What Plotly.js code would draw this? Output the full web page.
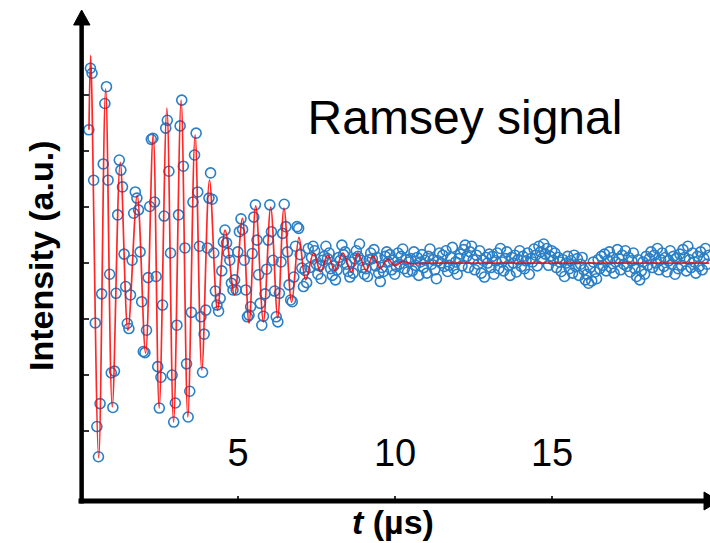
<!DOCTYPE html>
<html><head><meta charset="utf-8">
<script src="https://cdn.plot.ly/plotly-3.0.1.min.js"></script>
<style>html,body{margin:0;padding:0;background:#fff}#chart{width:710px;height:543px}</style>
</head><body><div id="chart"></div>
<script>
// sampling grid of the measurement (µs)
const T0 = 0.25;
const DT = 0.051;

// measured Ramsey signal (a.u.), one value per sample
const intensity = [
 2.38, 3.48, 3.39, 1.48, -1.07, -2.92, -3.46, -2.51, -0.55, 1.77,
 2.85, 3.15, 1.48, -0.20, -1.96, -2.58, -1.93, -0.54, 0.86, 1.84,
 1.66, 1.36, 0.16, -0.42, -1.08, -1.17, -0.57, 0.05, 0.89, 1.27,
 1.16, 0.95, 0.20, -0.69, -1.58, -1.60, -1.20, -0.26, 1.01, 2.21,
 2.23, 1.09, -0.24, -1.85, -2.59, -2.04, -0.75, 0.84, 2.41, 2.55,
 1.64, 0.18, -2.00, -2.84, -2.50, -1.11, 0.86, 2.45, 2.91, 1.73,
 0.27, -1.80, -2.75, -2.29, -0.88, 1.09, 1.93, 2.32, 1.27, 0.30,
 -0.96, -1.95, -1.27, -0.84, 0.27, 1.16, 1.61, 1.14, 0.18, -0.50,
 -0.75, -0.86, -0.63, -0.14, 0.38, 0.59, 0.36, 0.18, 0.05, -0.36,
 -0.48, -0.30, -0.48, 0.20, 0.56, 0.79, 0.60, 0.05, -0.48, -0.96,
 -0.93, -0.78, 0.17, 0.82, 1.04, 0.41, -0.21, -0.72, -1.11, -0.95,
 -0.55, -0.11, 0.41, 1.04, 0.56, 0.05, -0.50, -0.96, -1.05, -0.54,
 0.02, 0.53, 1.05, 0.65, 0.20, -0.39, -0.66, -0.69, -0.25, 0.30,
 0.65, 0.62, 0.15, -0.09, -0.42, -0.13, -0.35, 0.26, -0.08, 0.10,
 0.30, 0.22, -0.02, -0.20, -0.05, -0.28, 0.05, 0.12, 0.30, 0.08,
 0.18, -0.10, -0.22, -0.05, -0.30, -0.12, 0.10, 0.05, 0.32, 0.15,
 0.20, -0.02, -0.15, -0.25, 0.02, -0.18, 0.08, 0.22, 0.12, 0.34,
 0.05, -0.08, -0.20, -0.10, -0.24, 0.06, 0.18, 0.08, 0.24, -0.05,
 0.10, -0.18, -0.33, -0.08, -0.15, 0.12, 0.20, 0.02, 0.15, -0.12,
 0.05, -0.20, -0.06, 0.18, -0.02, 0.12, 0.25, -0.10, 0.06, -0.16,
 0.02, 0.08, -0.14, 0.20, -0.04, 0.10, -0.22, 0.02, 0.15, -0.08,
 0.05, -0.18, 0.12, 0.25, -0.02, 0.06, -0.12, -0.28, 0.04, 0.18,
 0.00, 0.14, -0.06, 0.22, -0.15, -0.04, 0.10, 0.28, -0.10, 0.02,
 -0.20, 0.08, 0.16, -0.05, 0.24, 0.32, 0.12, -0.08, 0.20, 0.30,
 0.06, -0.12, 0.14, -0.02, 0.22, -0.18, 0.05, -0.25, 0.10, 0.00,
 0.16, -0.08, 0.12, -0.20, 0.04, 0.18, -0.10, 0.26, 0.02, -0.14,
 0.08, 0.20, -0.04, -0.22, 0.10, 0.00, 0.14, -0.16, 0.06, 0.22,
 -0.06, 0.12, -0.10, 0.04, 0.18, -0.20, 0.08, 0.02, 0.25, 0.14,
 -0.05, 0.30, 0.20, 0.08, 0.34, 0.16, 0.26, -0.04, 0.12, 0.22,
 0.05, 0.18, -0.08, 0.10, 0.02, -0.15, 0.06, -0.24, 0.00, 0.12,
 -0.10, 0.04, -0.18, 0.14, -0.06, 0.08, -0.22, -0.02, 0.10, -0.12,
 -0.30, -0.20, -0.36, -0.08, -0.32, 0.02, -0.16, -0.28, 0.06, -0.10,
 0.12, -0.04, 0.16, -0.14, 0.05, 0.20, -0.08, 0.10, -0.18, 0.02,
 0.24, 0.08, -0.12, 0.14, -0.02, 0.22, -0.06, 0.10, -0.16, 0.04,
 0.18, -0.10, -0.24, 0.06, -0.30, -0.14, 0.02, -0.20, 0.12, -0.04,
 0.08, 0.20, -0.08, 0.14, 0.00, 0.26, -0.12, 0.06, 0.18, -0.06,
 0.10, -0.16, 0.04, 0.22, -0.02, 0.12, -0.20, 0.08, -0.10, 0.16,
 -0.04, 0.24, 0.10, -0.14, 0.30, 0.06, -0.08, 0.18, 0.02, -0.18,
 0.12, -0.06, 0.20, -0.12, 0.08, 0.26, -0.02, 0.14
];
const time = intensity.map((_, k) => +(T0 + DT * k).toFixed(3));

// fitted curve, read at its turning points (µs, a.u.)
const fitTime = [0.254, 0.308, 0.563, 0.785, 0.995, 1.250, 1.494, 1.790, 2.057, 2.299,
 2.490, 2.734, 2.948, 3.189, 3.402, 3.634, 3.847, 4.092, 4.347, 4.588,
 4.887, 5.141, 5.351, 5.564, 5.809, 6.041, 6.264, 6.464, 6.709, 6.941,
 7.154, 7.409, 7.631, 7.854, 8.092, 8.340, 8.607, 8.817, 9.084, 9.294,
 9.533, 9.762, 10.0, 10.24, 10.48, 11.0, 20.0];
const fitIntensity = [2.38, 3.71, -3.48, 3.11, -2.57, 1.80, -1.20, 1.21, -1.61, 2.30,
 -2.59, 2.77, -2.84, 2.91, -2.75, 2.29, -1.91, 1.48, -0.84, 0.59,
 -0.57, 0.80, -1.07, 1.02, -1.05, 1.00, -0.98, 0.98, -0.70, 0.46,
 -0.30, 0.18, -0.16, 0.14, -0.13, 0.18, -0.16, 0.18, -0.13, 0.13,
 -0.09, 0.07, -0.045, 0.03, -0.01, 0, 0];

const xTickValues = [5, 10, 15];
const xTickLabels = ['5', '10', '15'];
const yTickValues = [-3, -2, -1, 0, 1, 2, 3];

const FONT = 'Liberation Sans, Arial, sans-serif';

const traces = [
  {x: time, y: intensity, type: 'scatter', mode: 'markers', name: 'data',
   marker: {symbol: 'circle-open', size: 10, color: '#2a7fc6', line: {width: 1.6, color: '#2a7fc6'}},
   showlegend: false, hoverinfo: 'skip'},
  {x: fitTime, y: fitIntensity, type: 'scatter', mode: 'lines', name: 'fit',
   line: {color: 'rgba(255,0,0,0.85)', width: 1.7, shape: 'spline', smoothing: 1},
   showlegend: false, hoverinfo: 'skip'}
];

const layout = {
  width: 710, height: 543,
  margin: {l: 81, r: 0, t: 10, b: 42, pad: 0},
  paper_bgcolor: '#fff', plot_bgcolor: '#fff',
  font: {family: FONT, color: '#000'},
  title: {text: 'Ramsey signal', font: {family: FONT, size: 48, color: '#000'},
          x: 465 / 710, xanchor: 'center', xref: 'container',
          y: 1 - 117 / 543, yanchor: 'middle', yref: 'container'},
  xaxis: {range: [0, 20.03], showgrid: false, zeroline: false, showline: false,
          tickvals: xTickValues, ticktext: xTickLabels,
          ticks: 'inside', ticklen: 5, tickwidth: 1.5, tickcolor: '#333',
          ticklabelposition: 'inside', ticklabelstandoff: 27,
          tickfont: {family: FONT, size: 38, color: '#000'}},
  yaxis: {range: [-4.25, 4.52], showgrid: false, zeroline: false, showline: false,
          tickvals: yTickValues, showticklabels: false,
          ticks: 'inside', ticklen: 8, tickwidth: 1.5, tickcolor: '#333'},
  annotations: [
    {text: '<b>Intensity (a.u.)</b>', textangle: -90, showarrow: false,
     xref: 'paper', yref: 'paper', x: (41 - 81) / 629, y: (501 - 256) / 491,
     xanchor: 'center', yanchor: 'middle', font: {family: FONT, size: 34, color: '#000'}},
    {text: '<b><i>t</i> (µs)</b>', showarrow: false,
     xref: 'paper', yref: 'paper', x: (393 - 81) / 629, y: (501 - 522) / 491,
     xanchor: 'center', yanchor: 'middle', font: {family: FONT, size: 34, color: '#000'}}
  ],
  shapes: [
    {type: 'line', xref: 'paper', yref: 'paper', x0: 0.001, x1: 0.001, y0: -0.005, y1: 0.975,
     line: {color: '#000', width: 4.5}, layer: 'above'},
    {type: 'line', xref: 'paper', yref: 'paper', x0: -0.004, x1: 0.995, y0: 0, y1: 0,
     line: {color: '#000', width: 5}, layer: 'above'},
    {type: 'path', xref: 'paper', yref: 'paper',
     path: 'M -0.0117,0.9695 L 0.0143,0.9695 L 0.001,1.0 Z',
     fillcolor: '#000', line: {color: '#000', width: 1}, layer: 'above'},
    {type: 'path', xref: 'paper', yref: 'paper',
     path: 'M 0.9905,-0.0183 L 0.9905,0.0183 L 1.0143,0 Z',
     fillcolor: '#000', line: {color: '#000', width: 1}, layer: 'above'}
  ]
};

Plotly.newPlot('chart', traces, layout, {staticPlot: true, displayModeBar: false});
</script>
</body></html>
